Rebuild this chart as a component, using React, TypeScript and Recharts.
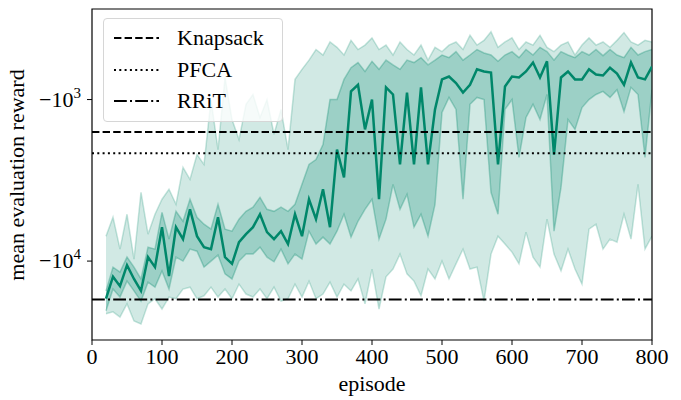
import React from "react";
import {
  ComposedChart,
  Area,
  Line,
  XAxis,
  YAxis,
  ReferenceLine,
  ReferenceArea,
} from "recharts";

// evaluation checkpoints (episode)
const episodes = [
  20, 30, 40, 50, 60, 70, 80, 90, 100, 110,
  120, 130, 140, 150, 160, 170, 180, 190, 200, 210,
  220, 230, 240, 250, 260, 270, 280, 290, 300, 310,
  320, 330, 340, 350, 360, 370, 380, 390, 400, 410,
  420, 430, 440, 450, 460, 470, 480, 490, 500, 510,
  520, 530, 540, 550, 560, 570, 580, 590, 600, 610,
  620, 630, 640, 650, 660, 670, 680, 690, 700, 710,
  720, 730, 740, 750, 760, 770, 780, 790, 800,
];

const meanReward = [
  -17100, -12500, -14300, -10600, -12900, -15300, -9450, -10900, -6170, -12400,
  -6170, -7310, -4780, -7010, -8200, -8430, -5350, -9450, -10400, -7630,
  -6810, -6170, -5130, -6620, -7310, -6530, -7850, -5130, -7010, -4140,
  -5500, -3590, -6170, -2040, -3030, -890, -810, -1530, -1000, -4140,
  -840, -930, -2520, -905, -2520, -840, -2520, -1150, -750, -720,
  -790, -905, -810, -650, -670, -680, -2520, -830, -720, -730,
  -670, -590, -730, -580, -2190, -730, -670, -750, -750, -650,
  -700, -710, -635, -690, -810, -590, -730, -750, -625,
];

const q75Reward = [
  -15300, -10900, -11700, -9450, -10900, -12900, -8200, -8430, -4990, -7310,
  -4920, -5670, -4140, -5350, -5910, -6340, -4450, -6340, -6530, -5500,
  -4920, -4640, -4030, -4780, -4920, -4640, -4920, -4450, -3350, -2520,
  -2350, -1900, -1000, -1000, -750, -635, -590, -670, -580, -650,
  -570, -610, -650, -570, -590, -550, -610, -570, -530, -550,
  -505, -570, -530, -490, -515, -530, -580, -530, -505, -550,
  -490, -530, -475, -505, -570, -505, -530, -550, -505, -530,
  -490, -535, -490, -530, -550, -475, -530, -505, -490,
];

const q25Reward = [
  -20300, -14900, -16700, -13300, -15300, -17700, -13500, -14500, -11500, -14900,
  -9450, -10000, -8430, -8680, -10900, -10000, -9180, -12000, -12900, -10000,
  -9050, -9050, -8200, -9450, -10100, -8430, -10400, -9050, -9720, -6530,
  -7850, -7110, -7850, -6530, -5130, -7110, -5670, -4780, -4140, -7310,
  -5500, -3350, -4780, -3860, -6170, -5130, -7010, -4450, -1200, -970,
  -1150, -4140, -1070, -970, -1000, -3750, -5130, -1150, -1000, -2280,
  -1290, -1070, -1330, -930, -6530, -3500, -1330, -1530, -1120, -1000,
  -930, -890, -970, -870, -1190, -840, -930, -2280, -870,
];

const maxReward = [
  -7010, -5350, -8430, -5130, -9720, -3750, -6810, -5130, -4140, -3590,
  -4450, -2630, -3120, -2190, -2520, -1000, -2040, -730, -1330, -1770,
  -1070, -930, -1290, -1000, -1640, -1150, -2040, -750, -650, -570,
  -490, -530, -440, -475, -530, -430, -490, -460, -415, -490,
  -460, -530, -440, -490, -530, -460, -570, -475, -505, -460,
  -440, -490, -400, -460, -430, -380, -475, -440, -415, -490,
  -440, -460, -400, -475, -505, -460, -440, -530, -460, -415,
  -460, -440, -475, -430, -385, -440, -460, -430, -440,
];

const minReward = [
  -21200, -20600, -22200, -18400, -23500, -24500, -18400, -17100, -19800, -16700,
  -17100, -14900, -14500, -17100, -16400, -14500, -16700, -14900, -17100, -13900,
  -16000, -16700, -14900, -17100, -14500, -17700, -17100, -13900, -16700, -13300,
  -17100, -16000, -13500, -16700, -13900, -15300, -12900, -18400, -11200, -19800,
  -12500, -11200, -9050, -12000, -13300, -16400, -11200, -12900, -10000, -12900,
  -10400, -8430, -11200, -10900, -17700, -9050, -7010, -7850, -8800, -10400,
  -6620, -9450, -10900, -5500, -9050, -11500, -8430, -11200, -13900, -6340,
  -5910, -8430, -7310, -7630, -5130, -7310, -3350, -8430, -7010,
];

const baselineNames = ["Knapsack", "PFCA", "RRiT"];
const baselineValues = [-1590, -2150, -17300];
const baselineDashes = ["7.4 3.2", "2 3.3", "12.8 3.2 2 3.2"];

const xTicks = [0, 100, 200, 300, 400, 500, 600, 700, 800];
const yTicks = [-10000, -1000];
const yDomain = [-30800, -275];

const GREEN = "#00876a";
const FONT = "'Liberation Serif', 'DejaVu Serif', serif";

const data = episodes.map((ep, i) => ({
  episode: ep,
  mean: meanReward[i],
  spread: [minReward[i], maxReward[i]],
  iqr: [q25Reward[i], q75Reward[i]],
}));

function PowTick(props: any) {
  const { x, y, payload } = props;
  const exp = Math.round(Math.log10(Math.abs(payload.value)));
  return (
    <text
      x={x}
      y={y}
      textAnchor="end"
      fontFamily={FONT}
      fontSize={22}
      fill="#000"
      dy={7}
    >
      <tspan>−10</tspan>
      <tspan dy={-9} fontSize={15}>
        {exp}
      </tspan>
    </text>
  );
}

function YTitle() {
  return (
    <text
      x={24}
      y={175}
      transform="rotate(-90, 24, 175)"
      textAnchor="middle"
      fontFamily={FONT}
      fontSize={22}
      fill="#000"
    >
      mean evaluation reward
    </text>
  );
}

function LegendBox() {
  return (
    <div
      style={{
        position: "absolute",
        left: 103,
        top: 18,
        width: 180,
        height: 104,
        border: "1px solid #d6d6d6",
        borderRadius: 4,
        background: "rgba(255,255,255,0.8)",
        boxSizing: "border-box",
        fontFamily: FONT,
        fontSize: 22,
      }}
    >
      {baselineNames.map((name, i) => (
        <div
          key={name}
          style={{
            position: "absolute",
            left: 0,
            top: 4 + i * 31.5,
            height: 30,
            lineHeight: "30px",
            width: "100%",
          }}
        >
          <svg
            width={50}
            height={30}
            style={{ position: "absolute", left: 9, top: 0 }}
          >
            <line
              x1={1}
              x2={46}
              y1={15}
              y2={15}
              stroke="#000"
              strokeWidth={2}
              strokeDasharray={baselineDashes[i]}
            />
          </svg>
          <span style={{ position: "absolute", left: 73, top: 0 }}>{name}</span>
        </div>
      ))}
    </div>
  );
}

export default function App() {
  return (
    <div
      style={{
        position: "absolute",
        left: 0,
        top: 0,
        width: 681,
        height: 400,
        background: "#fff",
      }}
    >
      <ComposedChart
        width={681}
        height={400}
        data={data}
        margin={{ top: 9, right: 29, bottom: 0, left: 0 }}
      >
        <XAxis
          dataKey="episode"
          type="number"
          domain={[0, 800]}
          ticks={xTicks}
          allowDataOverflow
          height={60}
          axisLine={false}
          tickLine={{ stroke: "#000", strokeWidth: 1 }}
          tickSize={5}
          tickMargin={3}
          tick={{ fontFamily: FONT, fontSize: 22, fill: "#000" }}
          label={{
            value: "episode",
            position: "insideBottom",
            offset: 9,
            style: { fontFamily: FONT, fontSize: 22, fill: "#000" },
          }}
        />
        <YAxis
          type="number"
          scale="log"
          domain={yDomain}
          ticks={yTicks}
          allowDataOverflow
          width={92}
          axisLine={false}
          tickLine={{ stroke: "#000", strokeWidth: 1 }}
          tickSize={5}
          tickMargin={6}
          tick={<PowTick />}
          label={<YTitle />}
        />
        <Area
          dataKey="spread"
          type="linear"
          fill={GREEN}
          fillOpacity={0.18}
          stroke={GREEN}
          strokeOpacity={0.22}
          strokeWidth={1.5}
          isAnimationActive={false}
          dot={false}
          activeDot={false}
        />
        <Area
          dataKey="iqr"
          type="linear"
          fill={GREEN}
          fillOpacity={0.25}
          stroke={GREEN}
          strokeOpacity={0.3}
          strokeWidth={1.5}
          isAnimationActive={false}
          dot={false}
          activeDot={false}
        />
        <Line
          dataKey="mean"
          type="linear"
          stroke={GREEN}
          strokeWidth={2.5}
          dot={false}
          activeDot={false}
          isAnimationActive={false}
        />
        {baselineValues.map((v, i) => (
          <ReferenceLine
            key={baselineNames[i]}
            y={v}
            stroke="#000"
            strokeWidth={2}
            strokeDasharray={baselineDashes[i]}
          />
        ))}
        <ReferenceArea
          x1={0}
          x2={800}
          y1={yDomain[0]}
          y2={yDomain[1]}
          fill="none"
          stroke="#000"
          strokeWidth={1.2}
          ifOverflow="visible"
        />
      </ComposedChart>
      <LegendBox />
    </div>
  );
}
